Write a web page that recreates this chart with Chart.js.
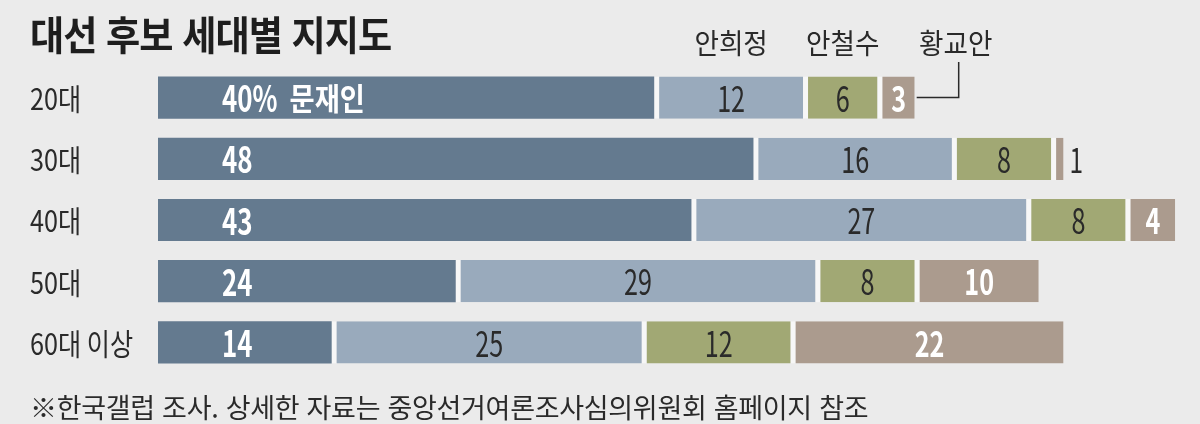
<!DOCTYPE html>
<html lang="ko">
<head>
<meta charset="utf-8">
<title>대선 후보 세대별 지지도</title>
<script src="https://cdn.jsdelivr.net/npm/chart.js@4"></script>
<style>
  body { margin: 0; background: #ebebeb; }
  #wrap { position: relative; width: 1200px; height: 424px; background: #ebebeb; }
  #title {
    position: absolute; left: 30px; top: 4px; transform-origin: 0 0; transform: scaleX(0.93);
    font: bold 40px "Noto Sans CJK KR", sans-serif; color: #1e1e1e; letter-spacing: -1px;
  }
  #note {
    position: absolute; left: 30px; top: 387px;
    font: 27px "Noto Sans CJK KR", sans-serif; color: #2a2a2a; letter-spacing: -0.3px;
  }
</style>
</head>
<body>
<div id="wrap">
  <canvas id="chart"></canvas>
  <div id="title">대선 후보 세대별 지지도</div>
  <div id="note">※한국갤럽 조사. 상세한 자료는 중앙선거여론조사심의위원회 홈페이지 참조</div>
</div>
<script>
// 연령대별 후보 지지율 (%)
const ageGroups = ["20대", "30대", "40대", "50대", "60대 이상"];
const candidates = ["문재인", "안희정", "안철수", "황교안"];
const moon = [40, 48, 43, 24, 14];
const ahnHJ = [12, 16, 27, 29, 25];
const ahnCS = [6, 8, 8, 8, 12];
const hwang = [3, 1, 4, 10, 22];
const xMax = 84;

const colors = ["#647a8f", "#99aabc", "#a1a874", "#ab9b8e"];
const gapColor = "#f7f7f7";
const FONT = "'Noto Sans CJK KR', sans-serif";

// 좁은 글꼴 대신 가로로 눌러서 그림
function narrowText(ctx, text, x, y, align, sx) {
  ctx.save();
  ctx.translate(x, y);
  ctx.scale(sx, 1);
  ctx.textAlign = align;
  ctx.fillText(text, 0, 0);
  ctx.restore();
}

const labelPlugin = {
  id: "labels",
  afterDatasetsDraw(chart) {
    const ctx = chart.ctx;
    ctx.save();
    ctx.textBaseline = "middle";

    // 연령대 이름
    const yScale = chart.scales.y;
    ctx.fillStyle = "#2a2a2a";
    ctx.font = "30px " + FONT;
    ageGroups.forEach((g, j) => {
      narrowText(ctx, g, 30, yScale.getPixelForTick(j) + 1, "left", 0.84);
    });

    chart.data.datasets.forEach((ds, i) => {
      const meta = chart.getDatasetMeta(i);
      meta.data.forEach((el, j) => {
        const v = ds.data[j];
        const y = el.y + 1;
        if (i === 0) {
          ctx.fillStyle = "#ffffff";
          ctx.font = "bold 36px " + FONT;
          narrowText(ctx, v + (j === 0 ? "%" : ""), el.base + 64, y, "left", 0.72);
          if (j === 0) {
            const w = ctx.measureText(v + "%").width * 0.72;
            ctx.font = "bold 31px " + FONT;
            narrowText(ctx, candidates[0], el.base + 64 + w + 12, y, "left", 0.88);
          }
        } else if (i === 3 && v < 2) {
          ctx.fillStyle = "#2a2a2a";
          ctx.font = "34px " + FONT;
          narrowText(ctx, String(v), el.x + 6, y, "left", 0.72);
        } else {
          const white = i === 3;
          ctx.fillStyle = white ? "#ffffff" : "#2a2a2a";
          ctx.font = (white ? "bold " : "") + "35px " + FONT;
          narrowText(ctx, String(v), (el.base + 5 + el.x) / 2, y, "center", 0.72);
        }
      });
    });

    // 후보 이름 (20대 막대 위)
    ctx.fillStyle = "#2a2a2a";
    ctx.font = "28px " + FONT;
    const top = chart.chartArea.top;
    for (let i = 1; i < 4; i++) {
      const el = chart.getDatasetMeta(i).data[0];
      let cx = (el.base + 5 + el.x) / 2;
      if (i === 3) cx = el.x + 41;
      narrowText(ctx, candidates[i], cx, top - 24, "center", 0.95);
      if (i === 3) {
        ctx.strokeStyle = "#2a2a2a";
        ctx.lineWidth = 1.5;
        ctx.beginPath();
        ctx.moveTo(el.x + 2, el.y);
        ctx.lineTo(cx + 3, el.y);
        ctx.lineTo(cx + 3, top - 5);
        ctx.stroke();
      }
    }
    ctx.restore();
  }
};

const seriesData = [moon, ahnHJ, ahnCS, hwang];

new Chart(document.getElementById("chart"), {
  type: "bar",
  data: {
    labels: ageGroups,
    datasets: seriesData.map((d, i) => ({
      label: candidates[i],
      data: d,
      backgroundColor: colors[i],
      borderColor: gapColor,
      borderWidth: { left: i === 0 ? 0 : 5, right: 0, top: 0, bottom: 0 },
      borderSkipped: false,
      inflateAmount: 0,
      barPercentage: 0.69,
      categoryPercentage: 1.0
    }))
  },
  options: {
    indexAxis: "y",
    responsive: true,
    maintainAspectRatio: false,
    animation: false,
    layout: { padding: { left: 30, top: 67, bottom: 51, right: 0 } },
    scales: {
      x: { stacked: true, min: 0, max: xMax, display: false },
      y: {
        stacked: true,
        grid: { display: false },
        border: { display: false },
        ticks: { display: false },
        afterFit(scale) { scale.width = 128; }
      }
    },
    plugins: {
      legend: { display: false },
      tooltip: { enabled: false }
    }
  },
  plugins: [labelPlugin]
});
</script>
</body>
</html>
